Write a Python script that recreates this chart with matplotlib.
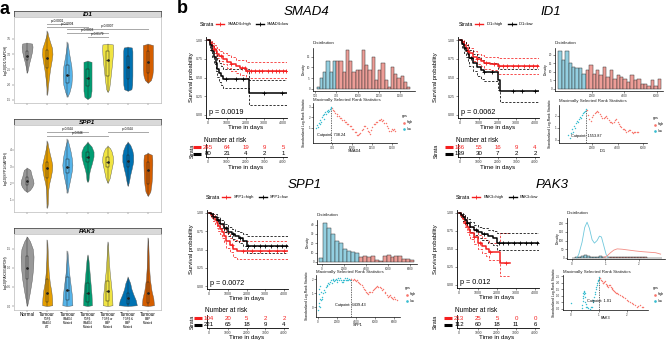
import numpy as np
import matplotlib
matplotlib.use('Agg')
import matplotlib.pyplot as plt
from matplotlib.lines import Line2D
from matplotlib.patches import Rectangle
import matplotlib.transforms as mtransforms

plt.rcParams['font.family'] = ['Liberation Sans', 'DejaVu Sans']

# ======================= DATA : panel a (violins) =======================
GROUP_MAIN = ['Normal', 'Tumour', 'Tumour', 'Tumour', 'Tumour', 'Tumour', 'Tumour']
GROUP_SUB = ['', 'TGFβ\nSMAD4\nWT', 'SMAD4\nMutated', 'TGFβ\nSMAD4\nMutated',
             'TGFβ or\nBMP\nMutated', 'TGFβ &\nBMP\nMutated', 'BMP\nMutated']

# violin outlines: levels (bottom->top) and half widths
ID1_VIOLIN_Y = [
    [2.39, 2.5, 2.7, 2.9, 3.1, 3.25, 3.35, 3.37],
    [1.66, 1.9, 2.2, 2.5, 2.8, 3.0, 3.2, 3.4, 3.6, 3.76],
    [1.60, 1.75, 2.0, 2.3, 2.6, 2.9, 3.1, 3.3, 3.40],
    [1.53, 1.6, 1.8, 2.1, 2.4, 2.6, 2.75, 2.78],
    [1.76, 1.85, 2.1, 2.4, 2.7, 3.0, 3.2, 3.32, 3.34],
    [1.80, 1.85, 2.0, 2.3, 2.6, 2.9, 3.1, 3.22, 3.24],
    [2.06, 2.15, 2.3, 2.5, 2.7, 2.9, 3.1, 3.3, 3.34],
]
ID1_VIOLIN_W = [
    [0.0, 0.04, 0.10, 0.18, 0.25, 0.27, 0.24, 0.0],
    [0.0, 0.03, 0.08, 0.14, 0.22, 0.26, 0.24, 0.14, 0.05, 0.0],
    [0.0, 0.10, 0.20, 0.23, 0.20, 0.12, 0.07, 0.03, 0.0],
    [0.0, 0.15, 0.20, 0.20, 0.20, 0.20, 0.20, 0.0],
    [0.0, 0.07, 0.12, 0.17, 0.22, 0.26, 0.27, 0.26, 0.0],
    [0.0, 0.18, 0.22, 0.23, 0.23, 0.23, 0.23, 0.20, 0.0],
    [0.0, 0.15, 0.22, 0.25, 0.25, 0.25, 0.25, 0.25, 0.0],
]
ID1_BOX = [[2.8, 2.95, 3.1], [2.55, 2.88, 3.15], [2.05, 2.32, 2.65], [1.95, 2.22, 2.5],
           [2.3, 2.81, 3.1], [2.2, 2.58, 2.95], [2.4, 2.75, 3.1]]
ID1_SIG = [(2, 3, 'p<0.0001', 3.99), (2, 4, 'p=0.0004', 3.89), (3, 7, 'p=0.0007', 3.83),
           (3, 5, 'p=0.0003', 3.70), (4, 5, 'p=0.0179', 3.57)]
ID1_YTICKS = [1.5, 2.0, 2.5, 3.0, 3.5]

SPP1_VIOLIN_Y = [
    [1.48, 1.6, 1.8, 2.0, 2.2, 2.4, 2.6, 2.8, 2.92],
    [0.52, 0.8, 1.2, 1.6, 2.0, 2.4, 2.8, 3.1, 3.4, 3.8, 4.2, 4.53],
    [1.42, 1.7, 2.0, 2.4, 2.8, 3.1, 3.5, 3.9, 4.3, 4.65],
    [2.08, 2.2, 2.5, 2.8, 3.2, 3.6, 3.9, 4.2, 4.47],
    [2.02, 2.3, 2.6, 3.0, 3.3, 3.6, 3.9, 4.1, 4.23],
    [1.84, 2.1, 2.5, 2.9, 3.3, 3.7, 4.0, 4.3, 4.47],
    [1.24, 1.5, 1.9, 2.3, 2.7, 3.1, 3.4, 3.7, 3.81],
]
SPP1_VIOLIN_W = [
    [0.0, 0.14, 0.26, 0.32, 0.30, 0.24, 0.20, 0.16, 0.0],
    [0.0, 0.03, 0.04, 0.05, 0.10, 0.18, 0.24, 0.25, 0.20, 0.12, 0.05, 0.0],
    [0.0, 0.05, 0.10, 0.17, 0.23, 0.25, 0.22, 0.16, 0.08, 0.0],
    [0.0, 0.05, 0.07, 0.12, 0.22, 0.30, 0.30, 0.20, 0.0],
    [0.0, 0.10, 0.15, 0.22, 0.27, 0.26, 0.20, 0.12, 0.0],
    [0.0, 0.06, 0.12, 0.20, 0.27, 0.27, 0.22, 0.12, 0.0],
    [0.0, 0.12, 0.17, 0.20, 0.21, 0.22, 0.22, 0.20, 0.0],
]
SPP1_BOX = [[1.9, 2.14, 2.35], [2.3, 2.92, 3.3], [2.6, 2.98, 3.45], [3.3, 3.57, 3.85],
            [2.95, 3.28, 3.6], [3.0, 3.34, 3.7], [1.95, 2.8, 3.3]]
SPP1_SIG = [(2, 4, 'p=0.044', 5.07), (2, 5, 'p=0.046', 4.83), (5, 7, 'p=0.044', 5.07)]
SPP1_YTICKS = [1, 2, 3, 4]

PAK3_VIOLIN_Y = [
    [0.0, 0.2, 0.4, 0.7, 1.0, 1.3, 1.5, 1.7, 1.82],
    [0.0, 0.02, 0.2, 0.4, 0.6, 0.9, 1.2, 1.5, 1.74],
    [0.0, 0.02, 0.3, 0.6, 0.9, 1.2, 1.45],
    [0.0, 0.02, 0.3, 0.6, 0.9, 1.2, 1.34],
    [0.0, 0.02, 0.3, 0.6, 0.9, 1.2, 1.5, 1.68],
    [0.0, 0.02, 0.15, 0.3, 0.45, 0.6, 0.76],
    [0.0, 0.02, 0.2, 0.4, 0.7, 1.0, 1.3, 1.6, 1.79],
]
PAK3_VIOLIN_W = [
    [0.0, 0.08, 0.15, 0.24, 0.30, 0.32, 0.28, 0.14, 0.0],
    [0.0, 0.25, 0.24, 0.20, 0.13, 0.07, 0.04, 0.02, 0.0],
    [0.0, 0.25, 0.22, 0.15, 0.08, 0.04, 0.0],
    [0.0, 0.22, 0.20, 0.15, 0.10, 0.05, 0.0],
    [0.0, 0.24, 0.22, 0.16, 0.10, 0.06, 0.03, 0.0],
    [0.0, 0.45, 0.40, 0.28, 0.18, 0.12, 0.0],
    [0.0, 0.30, 0.27, 0.18, 0.10, 0.06, 0.04, 0.02, 0.0],
]
PAK3_BOX = [[0.7, 1.0, 1.3], [0.1, 0.34, 0.71], [0.15, 0.42, 0.75], [0.1, 0.34, 0.6],
            [0.12, 0.39, 0.65], [0.05, 0.21, 0.35], [0.08, 0.34, 0.62]]
PAK3_SIG = []
PAK3_YTICKS = [0.0, 0.5, 1.0, 1.5]

# ======================= DATA : panel b (survival) =======================
# Kaplan-Meier steps: (time, survival, lower CI, upper CI)
SMAD4_KM_HIGH = [(0, 1, 1, 1), (100, .96, .93, .99), (200, .92, .88, .96), (300, .88, .83, .93),
                 (400, .85, .79, .91), (500, .82, .76, .88), (600, .79, .72, .86), (800, .75, .68, .83),
                 (1000, .71, .63, .80), (1200, .68, .59, .77), (1500, .65, .56, .74), (1700, .63, .54, .73),
                 (2000, .59, .49, .71), (4200, .59, .49, .71)]
SMAD4_KM_LOW = [(0, 1, 1, 1), (100, .93, .87, .98), (200, .86, .77, .94), (300, .78, .68, .88),
                (400, .70, .59, .81), (500, .62, .51, .74), (600, .56, .44, .69), (700, .52, .40, .65),
                (800, .48, .36, .61), (2170, .29, .14, .47), (4200, .29, .14, .47)]
SMAD4_CENS_HIGH = [300, 700, 1200, 1800, 1950, 2100, 2300, 2500, 2700, 2900, 3200, 3400, 3600, 3800, 4000, 4150]
SMAD4_CENS_LOW = [950, 1500, 1850, 3000, 3950]
SMAD4_RISK_HIGH = [245, 64, 19, 9, 5]
SMAD4_RISK_LOW = [80, 21, 4, 2, 1]
SMAD4_P = 'p = 0.0019'
SMAD4_CUT = 738.24
SMAD4_HIST_START, SMAD4_HIST_WIDTH = 520, 38
SMAD4_HIST = [1, 5, 8, 13, 8, 13, 13, 13, 8, 18, 13, 8, 9, 9, 18, 11, 9, 15, 4, 9, 12, 4, 1, 10, 7, 5, 6, 3, 1]
SMAD4_RANK_LOW = [(555, 1.0), (565, 1.3), (572, 1.1), (585, 1.5), (594, 1.4), (605, 1.8), (614, 1.6),
                  (626, 2.0), (633, 2.2), (645, 1.9), (655, 2.3), (664, 2.5), (676, 2.3), (684, 2.6),
                  (696, 2.5), (704, 2.7), (716, 2.6), (724, 2.8), (733, 2.9), (738, 3.0)]
SMAD4_RANK_HIGH = [(745, 2.9), (758, 2.7), (776, 2.65), (789, 2.4), (806, 2.35), (818, 2.15), (836, 2.15),
                   (849, 1.95), (866, 1.95), (879, 1.75), (896, 1.75), (908, 1.55), (926, 1.55), (941, 1.4),
                   (953, 1.4), (971, 1.2), (984, 1.15), (1001, 0.95), (1014, 0.9), (1031, 0.65), (1044, 0.6),
                   (1062, 0.35), (1074, 0.3), (1091, 0.45), (1103, 0.5), (1121, 0.85), (1134, 0.95),
                   (1151, 1.2), (1163, 1.15), (1181, 1.0), (1194, 0.7), (1211, 0.6), (1224, 0.45), (1241, 0.85),
                   (1253, 1.05), (1271, 1.35), (1284, 1.35), (1301, 1.6), (1314, 1.6), (1331, 1.75),
                   (1344, 1.75), (1361, 1.85), (1374, 1.7), (1391, 1.75), (1404, 1.5), (1421, 1.45),
                   (1434, 1.15), (1451, 1.0), (1464, 0.75), (1481, 0.75), (1494, 0.9), (1511, 0.85),
                   (1524, 0.9), (1540, 0.75)]

ID1_KM_HIGH = [(0, 1, 1, 1), (100, .97, .94, 1.0), (200, .94, .90, .98), (300, .90, .85, .95),
               (400, .86, .81, .92), (500, .83, .77, .89), (700, .78, .72, .85), (900, .75, .68, .82),
               (1100, .72, .65, .80), (1300, .70, .62, .78), (1600, .68, .60, .77), (2000, .65, .55, .76),
               (4200, .65, .55, .76)]
ID1_KM_LOW = [(0, 1, 1, 1), (100, .95, .90, .99), (200, .90, .83, .97), (300, .85, .77, .94),
              (400, .81, .72, .91), (500, .76, .66, .87), (700, .70, .59, .82), (900, .64, .52, .77),
              (1100, .60, .48, .73), (1300, .57, .45, .70), (2000, .47, .34, .62), (2150, .32, .17, .61),
              (4200, .32, .17, .61)]
ID1_CENS_HIGH = [400, 900, 1400, 1800, 2100, 2300, 2500, 2800, 3100, 3400, 3700, 3900, 4100]
ID1_CENS_LOW = [600, 1300, 1700, 2800, 3300, 4000]
ID1_RISK_HIGH = [186, 55, 16, 9, 4]
ID1_RISK_LOW = [139, 30, 7, 2, 2]
ID1_P = 'p = 0.0062'
ID1_CUT = 1553.87
ID1_HIST_START, ID1_HIST_WIDTH = -100, 213
ID1_HIST = [22, 17, 22, 15, 13, 12, 12, 9, 11, 14, 9, 11, 8, 13, 7, 11, 6, 8, 7, 6, 4, 8, 5, 6, 3, 3, 2, 5, 2, 6]
ID1_RANK_LOW = [(140, 0.4), (250, 0.2), (330, 0.6), (410, 0.9), (480, 0.7), (560, 1.2), (640, 1.0),
                (720, 1.4), (800, 1.6), (880, 1.5), (960, 1.7), (1040, 1.9), (1120, 1.8), (1200, 2.1),
                (1280, 2.2), (1360, 2.3), (1440, 2.4), (1520, 2.6)]
ID1_RANK_HIGH = [(1600, 2.5), (1700, 2.1), (1800, 1.7), (1900, 1.6), (2000, 1.9), (2100, 2.1), (2200, 2.2),
                 (2300, 2.35), (2400, 2.4), (2500, 2.3), (2600, 2.15), (2700, 2.0), (2800, 1.85), (2900, 1.8),
                 (3000, 1.9), (3100, 2.0), (3200, 1.85), (3300, 1.65), (3400, 1.5), (3500, 1.45), (3600, 1.4),
                 (3700, 1.5), (3800, 1.65), (3900, 1.7), (4000, 1.5), (4100, 1.3), (4200, 1.2), (4300, 1.05),
                 (4400, 0.95), (4500, 0.9), (4600, 0.8), (4700, 0.7), (4800, 0.75), (4900, 0.8), (5000, 0.8),
                 (5100, 0.7), (5200, 0.6), (5300, 0.65), (5400, 0.7), (5500, 0.7), (5600, 0.65)]

SPP1_KM_HIGH = [(0, 1, 1, 1), (100, .97, .93, 1.0), (200, .94, .89, .98), (300, .90, .85, .95),
                (400, .86, .80, .92), (500, .82, .75, .89), (600, .78, .71, .85), (700, .74, .66, .82),
                (800, .69, .60, .78), (900, .62, .52, .72), (1100, .56, .46, .66), (1300, .51, .40, .63),
                (1500, .48, .37, .62), (4200, .48, .37, .62)]
SPP1_KM_LOW = [(0, 1, 1, 1), (100, .98, .96, 1.0), (200, .95, .92, .98), (400, .90, .86, .94),
               (600, .85, .80, .90), (800, .79, .74, .85), (1000, .74, .68, .81), (1200, .71, .65, .78),
               (1400, .69, .62, .76), (1600, .66, .59, .74), (1800, .62, .55, .71), (2000, .55, .45, .69),
               (4200, .55, .45, .69)]
SPP1_CENS_HIGH = [1200, 1800, 2300, 2700, 3200, 3600, 4000]
SPP1_CENS_LOW = [500, 900, 1300, 1650, 2100, 2400, 2700, 3000, 3300, 3600, 3900, 4100]
SPP1_RISK_HIGH = [104, 20, 5, 2, 2]
SPP1_RISK_LOW = [221, 65, 18, 9, 4]
SPP1_P = 'p = 0.0072'
SPP1_CUT = 3439.43
SPP1_HIST_START, SPP1_HIST_WIDTH = -250, 360
SPP1_HIST = [4, 42, 36, 30, 22, 20, 14, 12, 11, 10, 5, 6, 5, 6, 2, 1, 6, 7, 5, 6, 6, 3, 3, 2]
SPP1_RANK_LOW = [(35, -0.2), (60, 0.3), (90, 0.9), (120, 0.1), (150, 1.3), (180, 0.6), (210, 0.0),
                 (250, 1.5), (280, 1.1), (300, 0.5), (386, 0.75), (470, 0.6), (561, 1.0), (650, 1.2),
                 (740, 1.1), (830, 1.4), (912, 1.55), (1000, 1.5), (1090, 1.7), (1180, 1.65), (1263, 1.8),
                 (1350, 1.9), (1440, 1.75), (1530, 1.95), (1614, 2.0), (1700, 1.85), (1790, 1.9),
                 (1880, 2.0), (1965, 1.8), (2050, 1.95), (2140, 2.05), (2230, 1.9), (2316, 2.05),
                 (2400, 1.95), (2490, 1.8), (2580, 1.9), (2667, 1.8), (2750, 1.95), (2840, 2.05),
                 (2930, 1.95), (3018, 2.05), (3100, 1.95), (3190, 1.9), (3280, 2.0), (3368, 1.95)]
SPP1_RANK_HIGH = [(3500, 2.0), (3650, 1.9), (3800, 2.0), (3895, 1.95), (4000, 1.85), (4100, 1.9),
                  (4246, 1.8), (4350, 1.7), (4450, 1.65), (4596, 1.55), (4700, 1.4), (4800, 1.3),
                  (4947, 1.2), (5050, 1.1), (5150, 1.0), (5298, 0.95), (5400, 1.05), (5500, 1.1),
                  (5649, 1.1), (5750, 1.2), (5850, 1.3), (6000, 1.35), (6100, 1.45), (6200, 1.5),
                  (6350, 1.45), (6526, 1.45), (6650, 1.35), (6750, 1.25), (6877, 1.3), (7000, 1.1),
                  (7100, 1.0), (7228, 0.85), (7350, 0.75), (7450, 0.8), (7579, 0.85), (7700, 0.7),
                  (7800, 0.65), (7930, 0.6), (8050, 0.7), (8150, 0.55), (8280, 0.5)]

PAK3_KM_HIGH = [(0, 1, 1, 1), (100, .96, .93, .99), (200, .91, .86, .96), (300, .86, .80, .92),
                (400, .81, .74, .88), (500, .76, .69, .84), (600, .72, .64, .80), (800, .66, .57, .75),
                (1000, .59, .50, .69), (1200, .54, .44, .65), (1400, .50, .40, .62), (1600, .46, .35, .59),
                (2150, .30, .13, .72), (2700, .30, .13, .72)]
PAK3_KM_LOW = [(0, 1, 1, 1), (100, .97, .94, 1.0), (200, .94, .89, .98), (300, .90, .85, .95),
               (400, .86, .80, .92), (600, .81, .74, .88), (800, .77, .69, .84), (1000, .73, .65, .81),
               (1200, .71, .62, .79), (1500, .68, .59, .77), (1800, .65, .55, .75), (2000, .59, .48, .72),
               (4200, .59, .48, .72)]
PAK3_CENS_HIGH = [300, 800, 1100, 1650, 2500]
PAK3_CENS_LOW = [400, 900, 1300, 2100, 2300, 2600, 2900, 3200, 3500, 3800, 4100]
PAK3_RISK_HIGH = [213, 25, 5, 0, 0]
PAK3_RISK_LOW = [112, 60, 18, 11, 6]
PAK3_P = 'p = 0.012'
PAK3_CUT = 1.01
PAK3_HIST_START, PAK3_HIST_WIDTH = 0.0, 0.09
PAK3_HIST = [1, 3, 8, 14, 18, 12, 5, 4, 7, 9, 3, 2, 3, 4, 5, 5, 6, 5, 5, 4, 4, 3, 3, 4, 3, 2, 2, 2, 2, 1]
PAK3_DENS_LOW = [(0.14, 0), (0.2, 20), (0.3, 90), (0.38, 175), (0.45, 205), (0.52, 170), (0.6, 105),
                 (0.67, 85), (0.75, 100), (0.82, 125), (0.88, 120), (0.95, 70), (1.02, 20), (1.08, 3)]
PAK3_DENS_HIGH = [(0.95, 2), (1.05, 12), (1.15, 30), (1.25, 45), (1.35, 52), (1.5, 50), (1.7, 45),
                  (1.9, 40), (2.1, 36), (2.3, 33), (2.5, 30), (2.65, 22)]
PAK3_RANK_LOW = [(0.0, 0.46), (0.38, 0.03), (0.40, 0.29), (0.41, 0.6), (0.42, 0.8), (0.43, 1.0),
                 (0.44, 1.19), (0.45, 1.4), (0.46, 1.31), (0.47, 1.1), (0.48, 0.93), (0.50, 1.19),
                 (0.51, 0.54), (0.52, 0.35), (0.54, 0.15), (0.58, 0.1), (0.62, 0.05), (0.68, 0.0),
                 (0.72, 0.1), (0.74, 0.15), (0.77, 0.54), (0.80, 0.7), (0.82, 0.93), (0.84, 1.1),
                 (0.86, 1.31), (0.88, 1.5), (0.89, 1.7), (0.91, 1.85), (0.93, 2.0), (0.95, 2.1),
                 (0.96, 2.21), (0.98, 2.3), (1.0, 2.47)]
PAK3_RANK_HIGH = [(1.04, 2.35), (1.07, 2.2), (1.1, 2.16), (1.13, 2.0), (1.15, 1.96), (1.18, 2.05),
                  (1.2, 2.1), (1.23, 1.9), (1.27, 1.83), (1.3, 1.75), (1.33, 1.7), (1.36, 1.8),
                  (1.39, 1.83), (1.42, 1.65), (1.45, 1.57), (1.48, 1.5), (1.51, 1.44), (1.54, 1.35),
                  (1.57, 1.31), (1.6, 1.25), (1.63, 1.19), (1.69, 1.1), (1.75, 1.06), (1.81, 1.0),
                  (1.87, 0.93), (1.93, 0.8), (1.99, 0.67), (2.05, 0.6), (2.1, 0.54), (2.16, 0.45),
                  (2.23, 0.36), (2.29, 0.25), (2.35, 0.15), (2.41, 0.2), (2.46, 0.29), (2.52, 0.15),
                  (2.58, 0.11)]

KM_TICKS = [0, 1000, 2000, 3000, 4000]

# ======================= STYLE / LAYOUT =======================
VIOLIN_COLORS = ['#999999', '#E69F00', '#56B4E9', '#009E73', '#F0E442', '#0072B2', '#D55E00']
RED = '#F51F1F'
HIST_BLUE, HIST_RED = '#93CFE0', '#EE9D97'
PT_RED, PT_BLUE = '#F8766D', '#38BDD0'

W, H = 668, 341
fig = plt.figure(figsize=(W / 100, H / 100), dpi=100)
renderer = fig.canvas.get_renderer()


def add_ax(x0, y0, x1, y1):
    return fig.add_axes([x0 / W, 1 - y1 / H, (x1 - x0) / W, (y1 - y0) / H])


def ftext(x, y, s, **kw):
    return fig.text(x / W, 1 - y / H, s, **kw)


def tw(t):
    return t.get_window_extent(renderer=renderer).width


def fline(x0, x1, y, **kw):
    fig.add_artist(Line2D([x0 / W, x1 / W], [1 - y / H, 1 - y / H], **kw))


def classic(ax, lw=0.5):
    for s in ('top', 'right'):
        ax.spines[s].set_visible(False)
    for s in ('left', 'bottom'):
        ax.spines[s].set_linewidth(lw)
        ax.spines[s].set_color('black')
    ax.tick_params(length=1.3, width=0.4, pad=0.8, labelsize=2.2, colors='#333333')


ftext(0, 1, 'a', fontsize=13, fontweight='bold', va='top')
ftext(177, 0, 'b', fontsize=13, fontweight='bold', va='top')

# ---------------- panel a ----------------
A_X0, A_X1 = 14, 161
A_FACETS = [
    ('ID1', ID1_VIOLIN_Y, ID1_VIOLIN_W, ID1_BOX, ID1_SIG, ID1_YTICKS, (11, 17, 103), (1.40, 4.22)),
    ('SPP1', SPP1_VIOLIN_Y, SPP1_VIOLIN_W, SPP1_BOX, SPP1_SIG, SPP1_YTICKS, (119, 125, 212), (0.28, 5.49)),
    ('PAK3', PAK3_VIOLIN_Y, PAK3_VIOLIN_W, PAK3_BOX, PAK3_SIG, PAK3_YTICKS, (228, 234, 310), (-0.105, 1.89)),
]
for gene, vys, vws, boxes, sigs, yt, (st, pt, pb), ylim in A_FACETS:
    sax = add_ax(A_X0, st, A_X1, pt)
    sax.set_facecolor('#D9D9D9')
    sax.set_xticks([]); sax.set_yticks([])
    for sp in sax.spines.values():
        sp.set_color('#333333'); sp.set_linewidth(0.5)
    sax.text(0.5, 0.45, gene, ha='center', va='center', fontsize=4.6, fontweight='bold',
             fontstyle='italic', transform=sax.transAxes)
    ax = add_ax(A_X0, pt, A_X1, pb)
    for sp in ax.spines.values():
        sp.set_color('#BBBBBB'); sp.set_linewidth(0.5)
    ax.set_xlim(0.35, 7.65)
    ax.set_ylim(*ylim)
    for i, (vy, vw, bx) in enumerate(zip(vys, vws, boxes), start=1):
        vy = np.asarray(vy); vw = np.asarray(vw)
        ax.fill_betweenx(vy, i - vw, i + vw, facecolor=VIOLIN_COLORS[i - 1],
                         edgecolor='#555555', lw=0.3, zorder=2)
        q1, med, q3 = bx
        ax.plot([i, i], [vy[0], q1], color='#222222', lw=0.3, zorder=3)
        ax.plot([i, i], [q3, vy[-1]], color='#222222', lw=0.3, zorder=3)
        ax.add_patch(Rectangle((i - 0.06, q1), 0.12, q3 - q1, fill=False, ec='#222222', lw=0.35, zorder=3))
        ax.plot([i - 0.06, i + 0.06], [med, med], color='#222222', lw=0.4, zorder=3)
        ax.plot([i], [med], 'o', color='#222222', ms=0.9, zorder=4)
    off = mtransforms.offset_copy(ax.transData, fig=fig, y=0.5, units='points')
    for a, b, lab, yv in sigs:
        ax.plot([a, b], [yv, yv], color='#A8A8A8', lw=0.7, zorder=1)
        ax.text((a + b) / 2, yv, lab, transform=off, ha='center', va='bottom', fontsize=2.3)
    ax.set_yticks(yt)
    ax.set_yticklabels([f'{v:.1f}' if isinstance(v, float) else str(v) for v in yt])
    ax.set_xticks(range(1, 8))
    ax.set_xticklabels([])
    ax.tick_params(length=1.2, width=0.3, pad=0.8, labelsize=2.2, colors='#444444')
    ftext(6, (pt + pb) / 2, f'log10({gene}/GAPDH)', rotation=90, ha='center', va='center', fontsize=2.6)
    if gene == 'PAK3':
        tr = mtransforms.blended_transform_factory(ax.transData, fig.transFigure)
        for i, (m, s) in enumerate(zip(GROUP_MAIN, GROUP_SUB), start=1):
            ax.text(i, 1 - 314 / H, m, transform=tr, ha='center', va='center', fontsize=3.3)
            if s:
                ax.text(i, 1 - 317 / H, s, transform=tr, ha='center', va='top', fontsize=2.0,
                        linespacing=1.0)

# ---------------- panel b ----------------
GENES = [
    ('SMAD4', SMAD4_KM_HIGH, SMAD4_KM_LOW, SMAD4_CENS_HIGH, SMAD4_CENS_LOW, SMAD4_RISK_HIGH, SMAD4_RISK_LOW,
     SMAD4_P, SMAD4_CUT, SMAD4_HIST_START, SMAD4_HIST_WIDTH, SMAD4_HIST, SMAD4_RANK_LOW, SMAD4_RANK_HIGH,
     None, None),
    ('ID1', ID1_KM_HIGH, ID1_KM_LOW, ID1_CENS_HIGH, ID1_CENS_LOW, ID1_RISK_HIGH, ID1_RISK_LOW,
     ID1_P, ID1_CUT, ID1_HIST_START, ID1_HIST_WIDTH, ID1_HIST, ID1_RANK_LOW, ID1_RANK_HIGH, None, None),
    ('SPP1', SPP1_KM_HIGH, SPP1_KM_LOW, SPP1_CENS_HIGH, SPP1_CENS_LOW, SPP1_RISK_HIGH, SPP1_RISK_LOW,
     SPP1_P, SPP1_CUT, SPP1_HIST_START, SPP1_HIST_WIDTH, SPP1_HIST, SPP1_RANK_LOW, SPP1_RANK_HIGH, None, None),
    ('PAK3', PAK3_KM_HIGH, PAK3_KM_LOW, PAK3_CENS_HIGH, PAK3_CENS_LOW, PAK3_RISK_HIGH, PAK3_RISK_LOW,
     PAK3_P, PAK3_CUT, PAK3_HIST_START, PAK3_HIST_WIDTH, PAK3_HIST, PAK3_RANK_LOW, PAK3_RANK_HIGH,
     PAK3_DENS_LOW, PAK3_DENS_HIGH),
]

LAYOUT = {
    'SMAD4': dict(km=(208, 283, 40, 115), title_x=307, leg_x=200, ylab_dx=16,
                  risk=(140, 144, 157, 168), hist=(313, 48, 415, 91), rank=(313, 103, 397, 143), gps_x=402,
                  hxlim=(476, 1676), hxt=[500, 750, 1000, 1250, 1500], hylim=(-1, 19), hyt=[0, 5, 10, 15],
                  rxlim=(512, 1562), rxt=[750, 1000, 1250, 1500], rylim=(-0.43, 3.38), ryt=[1, 2, 3],
                  cut_y=0.35, cut_lab='Cutpoint: 738.24'),
    'ID1': dict(km=(460, 535, 40, 115), title_x=551, leg_x=459, ylab_dx=24,
                risk=(140, 144, 157, 168), hist=(555, 48, 663, 91), rank=(559, 105, 647, 143), gps_x=653,
                hxlim=(-300, 6400), hxt=[2000, 4000, 6000], hylim=(-1.2, 24), hyt=[0, 5, 10, 15, 20],
                rxlim=(-590, 6310), rxt=[2000, 4000, 6000], rylim=(-0.25, 2.9), ryt=[0, 1, 2],
                cut_y=0.3, cut_lab='Cutpoint: 1553.87'),
    'SPP1': dict(km=(209, 284, 213, 286), title_x=305, leg_x=206, ylab_dx=17,
                 risk=(310, 315, 328, 338), hist=(317, 220, 417, 264), rank=(316, 275, 400, 317), gps_x=405,
                 hxlim=(-455, 8636), hxt=[0, 2000, 4000, 6000, 8000], hylim=(-2.2, 45), hyt=[0, 10, 20, 30, 40],
                 rxlim=(-210, 8630), rxt=[0, 2000, 4000, 6000, 8000], rylim=(-0.71, 2.29), ryt=[0, 1, 2],
                 cut_y=0.12, cut_lab='Cutpoint: 3439.43'),
    'PAK3': dict(km=(459, 535, 213, 285), title_x=552, leg_x=456, ylab_dx=24,
                 risk=(310, 315, 328, 338), hist=(567, 218, 665, 259), rank=(563, 275, 648, 310), gps_x=653,
                 hxlim=(-0.15, 2.78), hxt=[0, 1, 2], hylim=(-6, 229), hyt=[0, 50, 100, 150, 200],
                 rxlim=(-0.29, 2.75), rxt=[0, 1, 2], rylim=(-0.1, 2.6), ryt=[0.0, 0.5, 1.0, 1.5, 2.0, 2.5],
                 cut_y=0.6, cut_lab='Cutpoint: 1.01'),
}

for (g, kmh, kml, ch, cl, rh, rl, pval, cut, hstart, hwidth, hist, rlow, rhigh, dlow, dhigh) in GENES:
    L = LAYOUT[g]
    X0, X4, Y1, Y0 = L['km']
    ppt = (X4 - X0) / 4000.0
    ysc = (Y0 - Y1)
    xl, xr = X0 - 100 * ppt, X0 + 4200 * ppt
    # title
    ftext(L['title_x'], Y1 - 28, g, fontsize=9.5, fontstyle='italic', ha='center', va='center')
    # legend row
    ly = Y1 - 16
    x = L['leg_x']
    t = ftext(x, ly, 'Strata', fontsize=3.9, va='center')
    x += tw(t) + 2
    for col, lab in ((RED, f'{g}=high'), ('black', f'{g}=low')):
        fline(x, x + 8, ly, color=col, lw=1.0)
        fig.add_artist(Line2D([(x + 4) / W], [1 - ly / H], color=col, marker='+', ms=2.6, mew=0.6))
        x += 11
        t = ftext(x, ly, lab, fontsize=2.9, va='center')
        x += tw(t) + 5
    # KM axes
    ax = add_ax(xl, Y1 - 0.04 * ysc, xr, Y0 + 0.04 * ysc)
    classic(ax, lw=0.6)
    ax.set_xlim(-100, 4200); ax.set_ylim(-0.04, 1.04)
    ax.set_xticks(KM_TICKS); ax.set_yticks([0, 0.25, 0.5, 0.75, 1.0])
    ax.set_yticklabels(['0.00', '0.25', '0.50', '0.75', '1.00'])
    ax.tick_params(labelsize=2.5)
    for data, cens, col in ((kmh, ch, RED), (kml, cl, 'black')):
        arr = np.array(data, dtype=float)
        tt, ss, lo, up = arr[:, 0], arr[:, 1], arr[:, 2], arr[:, 3]
        ax.step(tt, up, where='post', color=col, lw=0.55, ls=(0, (3, 2)), zorder=2)
        ax.step(tt, lo, where='post', color=col, lw=0.55, ls=(0, (3, 2)), zorder=2)
        ax.step(tt, ss, where='post', color=col, lw=1.1, zorder=3)
        idx = np.searchsorted(tt, cens, side='right') - 1
        ax.plot(cens, ss[idx], '+', color=col, ms=2.6, mew=0.6, zorder=4)
    ax.text(60, -0.01, pval, fontsize=5.2, ha='left', va='bottom')
    ftext((X0 + X4) / 2, Y0 + 12.5, 'Time in days', fontsize=4.5, ha='center', va='center')
    ftext(X0 - L['ylab_dx'], (Y1 + Y0) / 2, 'Survival probability', fontsize=4.2, rotation=90,
          ha='center', va='center')
    # risk table
    nar_y, rt, rb, xlab_y = L['risk']
    ftext(X0 - 4, nar_y, 'Number at risk', fontsize=4.7, va='center')
    rax = add_ax(xl, rt, xr, rb)
    classic(rax, lw=0.6)
    rax.set_xlim(-100, 4200); rax.set_ylim(0, 2)
    rax.set_yticks([]); rax.set_xticks(KM_TICKS)
    rax.tick_params(labelsize=2.4)
    for tt_, a_, b_ in zip(KM_TICKS, rh, rl):
        rax.text(tt_, 1.5, str(a_), color=RED, fontsize=4.4, ha='center', va='center')
        rax.text(tt_, 0.5, str(b_), color='black', fontsize=4.4, ha='center', va='center')
    ry1 = rt + (rb - rt) * 0.25
    ry2 = rt + (rb - rt) * 0.75
    fline(X0 - 15, X0 - 7, ry1, color=RED, lw=2.2, solid_capstyle='butt')
    fline(X0 - 15, X0 - 7, ry2, color='black', lw=2.2, solid_capstyle='butt')
    ftext(X0 - L['ylab_dx'], (rt + rb) / 2, 'Strata', fontsize=3.8, rotation=90, ha='center', va='center')
    ftext((X0 + X4) / 2, xlab_y, 'Time in days', fontsize=4.5, ha='center', va='center')

    # histogram
    hx0, hy0, hx1, hy1 = L['hist']
    hax = add_ax(hx0, hy0, hx1, hy1)
    classic(hax)
    lefts = hstart + hwidth * np.arange(len(hist))
    cols = [HIST_BLUE if (lx + hwidth / 2) < cut else HIST_RED for lx in lefts]
    hax.bar(lefts, hist, width=hwidth, align='edge', color=cols, edgecolor='#333333', linewidth=0.35)
    if dlow is not None:
        dl = np.array(dlow); dh = np.array(dhigh)
        hax.plot(dl[:, 0], dl[:, 1], color='#6FC8DC', lw=0.6)
        hax.plot(dh[:, 0], dh[:, 1], color='#F28B83', lw=0.6)
    hax.set_xlim(*L['hxlim']); hax.set_ylim(*L['hylim'])
    hax.set_xticks(L['hxt']); hax.set_yticks(L['hyt'])
    ftext(hx0, hy0 - 4.5, 'Distribution', fontsize=3.2, va='center', color='#222222')
    ftext(hx0 - 9, (hy0 + hy1) / 2, 'Density', fontsize=2.5, rotation=90, ha='center', va='center')

    # maximally selected rank statistics
    rx0, ry0, rx1, ry1 = L['rank']
    kax = add_ax(rx0, ry0, rx1, ry1)
    classic(kax)
    lo_ = np.array(rlow); hi_ = np.array(rhigh)
    kax.scatter(hi_[:, 0], hi_[:, 1], s=1.1, color=PT_RED, lw=0, zorder=3)
    kax.scatter(lo_[:, 0], lo_[:, 1], s=1.1, color=PT_BLUE, lw=0, zorder=3)
    kax.set_xlim(*L['rxlim']); kax.set_ylim(*L['rylim'])
    ymax = max(lo_[:, 1].max(), hi_[:, 1].max())
    kax.plot([cut, cut], [L['rylim'][0], ymax], color='#333333', lw=0.5, ls=(0, (2, 1.5)), zorder=2)
    kax.text(cut, L['cut_y'], L['cut_lab'], fontsize=2.8, ha='center', va='center', zorder=4)
    kax.set_xticks(L['rxt']); kax.set_yticks(L['ryt'])
    if isinstance(L['ryt'][0], float):
        kax.set_yticklabels([f'{v:.1f}' for v in L['ryt']])
    ftext(rx0, ry0 - 3.5, 'Maximally Selected Rank Statistics', fontsize=3.2, va='center', color='#222222')
    ftext(rx0 - 9, (ry0 + ry1) / 2, 'Standardized Log-Rank Statistic', fontsize=2.4, rotation=90,
          ha='center', va='center')
    ftext((rx0 + rx1) / 2, ry1 + 8, g, fontsize=2.8, ha='center', va='center')
    gx = L['gps_x']
    ftext(gx, ry0 + 13, 'gps', fontsize=2.6, va='center')
    for k, (lab, c) in enumerate((('high', PT_RED), ('low', PT_BLUE))):
        yy = ry0 + 19.5 + 6 * k
        fig.add_artist(Line2D([(gx + 2) / W], [1 - yy / H], color=c, marker='o', ms=0.9, lw=0))
        ftext(gx + 5, yy, lab, fontsize=2.3, va='center')

fig.savefig('out.png', dpi=100)
